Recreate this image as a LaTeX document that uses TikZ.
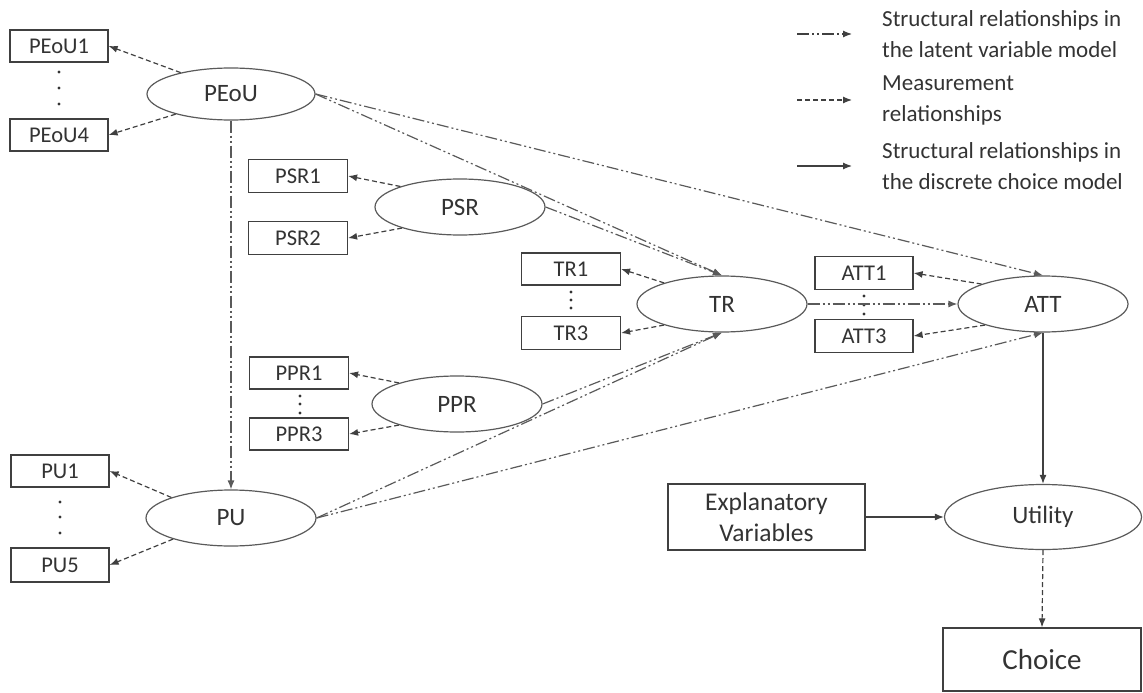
\documentclass[tikz,border=0pt]{standalone}
\usepackage{fontspec}
\setmainfont{Carlito}
\usetikzlibrary{arrows.meta,shapes.geometric}
\definecolor{ink}{HTML}{333333}
\definecolor{edgec}{HTML}{404040}
\definecolor{latc}{HTML}{5A5A5A}
\begin{document}
\begin{tikzpicture}[x=1pt,y=-1pt,
  box/.style={draw=edgec,line width=1.2pt,rectangle,minimum width=98pt,minimum height=32pt,inner sep=0pt,text=ink,font=\fontsize{22.5}{27}\selectfont},
  lv/.style={draw=latc,line width=1.2pt,ellipse,minimum width=170pt,minimum height=56pt,inner sep=0pt,text=ink,font=\fontsize{25}{30}\selectfont},
  tip/.style={-{Latex[length=9pt,width=7pt]}},
  meas/.style={draw=edgec,line width=1.2pt,dash pattern=on 5pt off 3pt,tip},
  struct/.style={draw=latc,line width=1.2pt,dash pattern=on 12pt off 3pt on 2pt off 3pt on 2pt off 3pt,tip},
  dcm/.style={draw=edgec,line width=1.2pt,tip},
  legtext/.style={anchor=west,align=left,text=ink,font=\fontsize{23}{31}\selectfont,inner sep=0pt}
]
\useasboundingbox (0,0) rectangle (1143,693);

% latent variables
\node[lv,minimum width=168pt,minimum height=52pt] (PEoU) at (231,94) {PEoU};
\node[lv] (PSR) at (460,207) {PSR};
\node[lv] (TR) at (722,304) {TR};
\node[lv] (PPR) at (457,404) {PPR};
\node[lv] (PU) at (231,518) {PU};
\node[lv] (ATT) at (1043,304) {ATT};
\node[lv,minimum width=197pt,minimum height=65pt] (Util) at (1043,517) {Utility};

% indicators
\node[box] (PEoU1) at (59,46) {PEoU1};
\node[box] (PEoU4) at (59,135) {PEoU4};
\node[box,minimum width=99pt,minimum height=33pt] (PSR1) at (298,176) {PSR1};
\node[box,minimum width=99pt,minimum height=33pt] (PSR2) at (298,238) {PSR2};
\node[box,minimum width=99pt] (TR1) at (571,269) {TR1};
\node[box,minimum width=99pt,minimum height=33pt] (TR3) at (571,333) {TR3};
\node[box,minimum width=99pt] (PPR1) at (299,373) {PPR1};
\node[box,minimum width=99pt] (PPR3) at (299,434) {PPR3};
\node[box] (PU1) at (60,471) {PU1};
\node[box,minimum height=34pt] (PU5) at (60,565) {PU5};
\node[box,minimum height=33pt] (ATT1) at (864,273) {ATT1};
\node[box,minimum height=33pt] (ATT3) at (864,336) {ATT3};
\node[box,minimum width=197pt,minimum height=66pt,align=center,font=\fontsize{25.5}{31}\selectfont] (Expl) at (766.5,517) {Explanatory\\Variables};
\node[box,minimum width=198pt,minimum height=63pt,font=\fontsize{29}{34}\selectfont] (Choice) at (1042,659.5) {Choice};

% vertical dots
\foreach \y in {72,88,104} \fill[ink] (59,\y) circle (1.7pt);
\foreach \y in {292,300,308} \fill[ink] (571,\y) circle (1.7pt);
\foreach \y in {396,404,413} \fill[ink] (300,\y) circle (1.7pt);
\foreach \y in {502,517,533} \fill[ink] (60,\y) circle (1.7pt);
\foreach \y in {296,305,314} \fill[ink] (864,\y) circle (1.7pt);

% measurement relationships
\draw[meas] (PEoU.157) -- (PEoU1.east);
\draw[meas] (PEoU.200) -- (PEoU4.east);
\draw[meas] (PSR.161) -- (PSR1.east);
\draw[meas] (PSR.200) -- (PSR2.east);
\draw[meas] (TR.160) -- (TR1.east);
\draw[meas] (TR.200) -- (TR3.east);
\draw[meas] (PPR.160) -- (PPR1.east);
\draw[meas] (PPR.200) -- (PPR3.east);
\draw[meas] (PU.161) -- (PU1.east);
\draw[meas] (PU.200) -- (PU5.east);
\draw[meas] (ATT.162) -- (ATT1.east);
\draw[meas] (ATT.200) -- (ATT3.east);
\draw[meas] (Util.south) -- (Choice.north);

% structural relationships (latent variable model)
\draw[struct] (PEoU.south) -- (PU.north);
\draw[struct] (PEoU.east) -- (TR.north);
\draw[struct] (PEoU.east) -- (ATT.north);
\draw[struct] (PSR.east) -- (TR.north);
\draw[struct] (TR.east) -- (ATT.west);
\draw[struct] (PPR.east) -- (TR.south);
\draw[struct] (PU.east) -- (TR.south);
\draw[struct] (PU.east) -- (ATT.south);

% structural relationships (discrete choice model)
\draw[dcm] (ATT.south) -- (Util.north);
\draw[dcm] (Expl.east) -- (Util.west);

% legend
\coordinate (l1s) at (797,34); \coordinate (l1e) at (852,34);
\coordinate (l2s) at (797,100); \coordinate (l2e) at (852,100);
\coordinate (l3s) at (797,166); \coordinate (l3e) at (852,166);
\draw[struct,draw=edgec] (l1s) -- (l1e);
\draw[meas] (l2s) -- (l2e);
\draw[dcm] (l3s) -- (l3e);
\node[legtext] (lt1) at (882,34) {Structural relationships in\\the latent variable model};
\node[legtext] (lt2) at (882,100) {Measurement\\relationships};
\node[legtext] (lt3) at (882,166) {Structural relationships in\\the discrete choice model};
\end{tikzpicture}
\end{document}
